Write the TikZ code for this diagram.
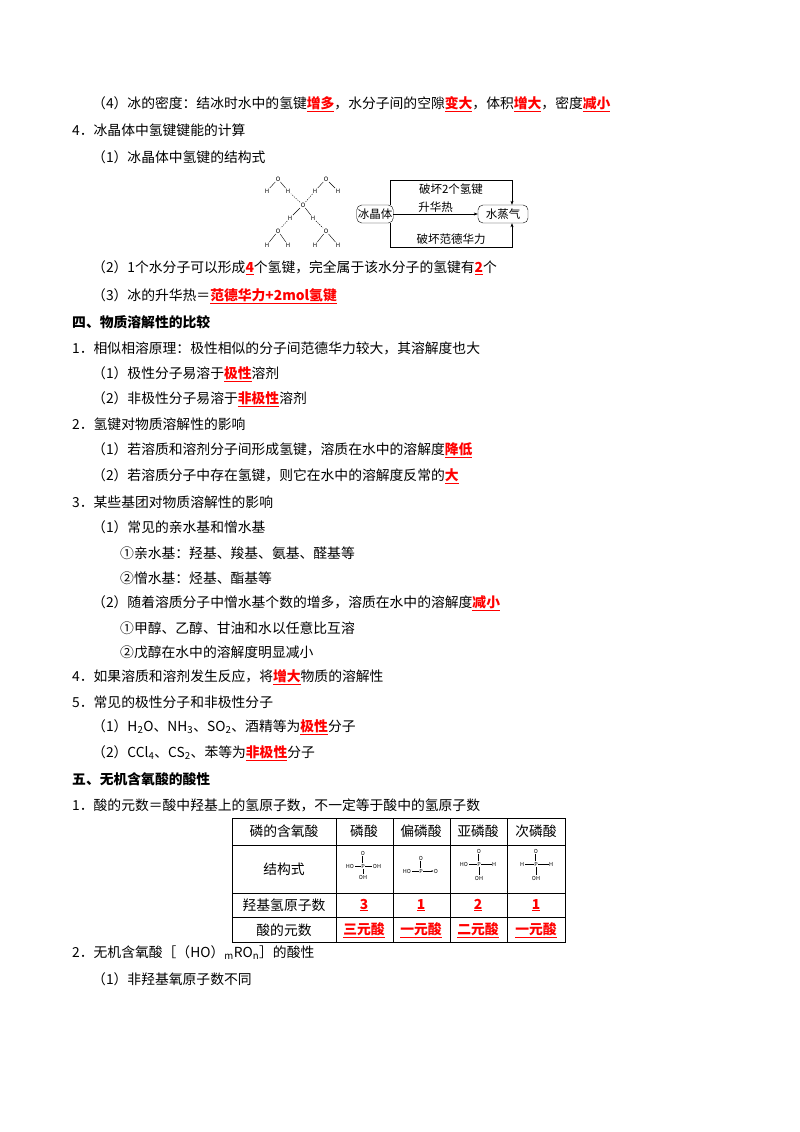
\documentclass[tikz,border=0pt]{standalone}
\usepackage{fontspec}
\setmainfont{Noto Sans CJK SC}
\usetikzlibrary{arrows.meta}
\newcommand\ans[1]{\textcolor{red}{\bfseries\underline{#1}}}
\begin{document}
\begin{tikzpicture}[x=1pt,y=-1pt,
  ln/.style={anchor=west,inner sep=0pt,font=\fontsize{13.8}{15}\selectfont},
  hd/.style={ln,font=\fontsize{13.8}{15}\selectfont\bfseries},
  atm/.style={inner sep=0.5pt,font=\fontsize{6}{6}\selectfont},
  bx/.style={draw,rounded corners=5pt,minimum width=36pt,minimum height=18pt,inner sep=1pt,font=\fontsize{11.5}{12}\selectfont},
  lb/.style={inner sep=0.5pt,font=\fontsize{11.5}{12}\selectfont},
  tc/.style={inner sep=0pt,font=\fontsize{13.8}{15}\selectfont},
  ps/.style={inner sep=0.3pt,font=\fontsize{5.5}{6}\selectfont},
  >={Stealth[length=4pt,width=3pt]}]
\useasboundingbox (0,0) rectangle (800,1132);
\node[ln] (a1) at (92,104) {（4）冰的密度：结冰时水中的氢键\ans{增多}，水分子间的空隙\ans{变大}，体积\ans{增大}，密度\ans{减小}};
\node[ln] (a2) at (72,130) {4．冰晶体中氢键键能的计算};
\node[ln] (a3) at (92,157) {（1）冰晶体中氢键的结构式};
\node[ln] (a4) at (92,268) {（2）1个水分子可以形成\ans{4}个氢键，完全属于该水分子的氢键有\ans{2}个};
\node[ln] (a5) at (92,296) {（3）冰的升华热＝\ans{范德华力+2mol氢键}};
\node[hd] (a6) at (72,322) {四、物质溶解性的比较};
\node[ln] (a7) at (72,348) {1．相似相溶原理：极性相似的分子间范德华力较大，其溶解度也大};
\node[ln] (a8) at (92,374) {（1）极性分子易溶于\ans{极性}溶剂};
\node[ln] (a9) at (92,399) {（2）非极性分子易溶于\ans{非极性}溶剂};
\node[ln] (a10) at (72,424) {2．氢键对物质溶解性的影响};
\node[ln] (a11) at (92,450) {（1）若溶质和溶剂分子间形成氢键，溶质在水中的溶解度\ans{降低}};
\node[ln] (a12) at (92,476) {（2）若溶质分子中存在氢键，则它在水中的溶解度反常的\ans{大}};
\node[ln] (a13) at (72,502) {3．某些基团对物质溶解性的影响};
\node[ln] (a14) at (92,527) {（1）常见的亲水基和憎水基};
\node[ln] (a15) at (120,553) {①亲水基：羟基、羧基、氨基、醛基等};
\node[ln] (a16) at (120,578) {②憎水基：烃基、酯基等};
\node[ln] (a17) at (92,603) {（2）随着溶质分子中憎水基个数的增多，溶质在水中的溶解度\ans{减小}};
\node[ln] (a18) at (120,628) {①甲醇、乙醇、甘油和水以任意比互溶};
\node[ln] (a19) at (120,652) {②戊醇在水中的溶解度明显减小};
\node[ln] (a20) at (72,677) {4．如果溶质和溶剂发生反应，将\ans{增大}物质的溶解性};
\node[ln] (a21) at (72,702) {5．常见的极性分子和非极性分子};
\node[ln] (a22) at (92,727) {（1）H\textsubscript{2}O、NH\textsubscript{3}、SO\textsubscript{2}、酒精等为\ans{极性}分子};
\node[ln] (a23) at (92,753) {（2）CCl\textsubscript{4}、CS\textsubscript{2}、苯等为\ans{非极性}分子};
\node[hd] (a24) at (72,779) {五、无机含氧酸的酸性};
\node[ln] (a25) at (72,805) {1．酸的元数＝酸中羟基上的氢原子数，不一定等于酸中的氢原子数};
\node[ln] (a26) at (72,953) {2．无机含氧酸［（HO）\textsubscript{\itshape m}RO\textsubscript{\itshape n}］的酸性};
\node[ln] (a27) at (92,979) {（1）非羟基氧原子数不同};
% ice structure
\foreach \n/\x/\y in {ot/278/179,or/326/179,oc/303/205,ob/278/231,obr/326/231}{\node[atm] (\n) at (\x,\y) {O};}
\foreach \n/\x/\y in {h1/267/191,h2/288/191,h3/315/191,h4/338/191,h5/290/218,h6/313/218,h7/267/245,h8/288/245,h9/315/245,h10/338/245}{\node[atm] (\n) at (\x,\y) {H};}
\draw[line width=0.4pt] (ot)--(h1) (ot)--(h2) (or)--(h3) (or)--(h4) (oc)--(h5) (oc)--(h6) (ob)--(h7) (ob)--(h8) (obr)--(h9) (obr)--(h10);
\draw[line width=0.4pt,dash pattern=on 1.2pt off 1.2pt] (oc)--(h2) (oc)--(h3) (h5)--(ob) (h6)--(obr);
% flow
\node[bx] (ice) at (375,214) {冰晶体};
\node[bx,minimum width=50pt] (vap) at (503,214) {水蒸气};
\draw[->] (ice)--(vap) node[lb,midway,above=1pt] (s1) {升华热};
\coordinate (t1) at (390,180); \coordinate (t2) at (512,180);
\coordinate (b1) at (390,247); \coordinate (b2) at (512,247);
\draw[->] (ice.north -| t1)--(t1)--(t2)--(vap.north -| t2);
\draw[->] (ice.south -| b1)--(b1)--(b2)--(vap.south -| b2);
\node[lb] (s2) at (451,189) {破坏2个氢键};
\node[lb] (s3) at (451,239) {破坏范德华力};
% table
\draw[line width=0.5pt] (232,818) rectangle (565,942);
\foreach \x in {336,393,450,507}{\draw (\x,818)--(\x,942);}
\foreach \y in {845,893,917}{\draw (232,\y)--(565,\y);}
\node[tc] (c11) at (284,831) {磷的含氧酸};
\node[tc] (c12) at (364,831) {磷酸};
\node[tc] (c13) at (421,831) {偏磷酸};
\node[tc] (c14) at (478,831) {亚磷酸};
\node[tc] (c15) at (536,831) {次磷酸};
\node[tc] (c21) at (284,869) {结构式};
\node[tc] (c31) at (284,905) {羟基氢原子数};
\node[tc] (c41) at (284,930) {酸的元数};
\node[tc] (c32) at (364,905) {\ans{3}};
\node[tc] (c33) at (421,905) {\ans{1}};
\node[tc] (c34) at (478,905) {\ans{2}};
\node[tc] (c35) at (536,905) {\ans{1}};
\node[tc] (c42) at (364,930) {\ans{三元酸}};
\node[tc] (c43) at (421,930) {\ans{一元酸}};
\node[tc] (c44) at (478,930) {\ans{二元酸}};
\node[tc] (c45) at (536,930) {\ans{一元酸}};
% structures
\node[ps] (p1) at (363,866) {P}; \node[ps] (p1o) at (363,853) {O};
\node[ps] (p1l) at (350,866) {HO}; \node[ps] (p1r) at (377,866) {OH}; \node[ps] (p1b) at (363,877) {OH};
\draw[line width=0.3pt] (p1)--(p1l) (p1)--(p1r) (p1)--(p1b);
\draw[line width=0.3pt,double,double distance=0.6pt] (p1)--(p1o);
\node[ps] (p2) at (421,871) {P}; \node[ps] (p2o) at (421,858) {O};
\node[ps] (p2l) at (407,871) {HO}; \node[ps] (p2r) at (436,871) {O};
\draw[line width=0.3pt] (p2)--(p2l); \draw[line width=0.3pt,-{Stealth[length=2pt,width=1.5pt]}] (p2)--(p2r);
\draw[line width=0.3pt,double,double distance=0.6pt] (p2)--(p2o);
\node[ps] (p3) at (479,864) {P}; \node[ps] (p3o) at (479,851) {O};
\node[ps] (p3l) at (464,864) {HO}; \node[ps] (p3r) at (494,864) {H}; \node[ps] (p3b) at (479,878) {OH};
\draw[line width=0.3pt] (p3)--(p3l) (p3)--(p3r) (p3)--(p3b);
\draw[line width=0.3pt,double,double distance=0.6pt] (p3)--(p3o);
\node[ps] (p4) at (536,864) {P}; \node[ps] (p4o) at (536,851) {O};
\node[ps] (p4l) at (522,864) {H}; \node[ps] (p4r) at (551,864) {H}; \node[ps] (p4b) at (536,878) {OH};
\draw[line width=0.3pt] (p4)--(p4l) (p4)--(p4r) (p4)--(p4b);
\draw[line width=0.3pt,double,double distance=0.6pt] (p4)--(p4o);
\end{tikzpicture}
\end{document}
